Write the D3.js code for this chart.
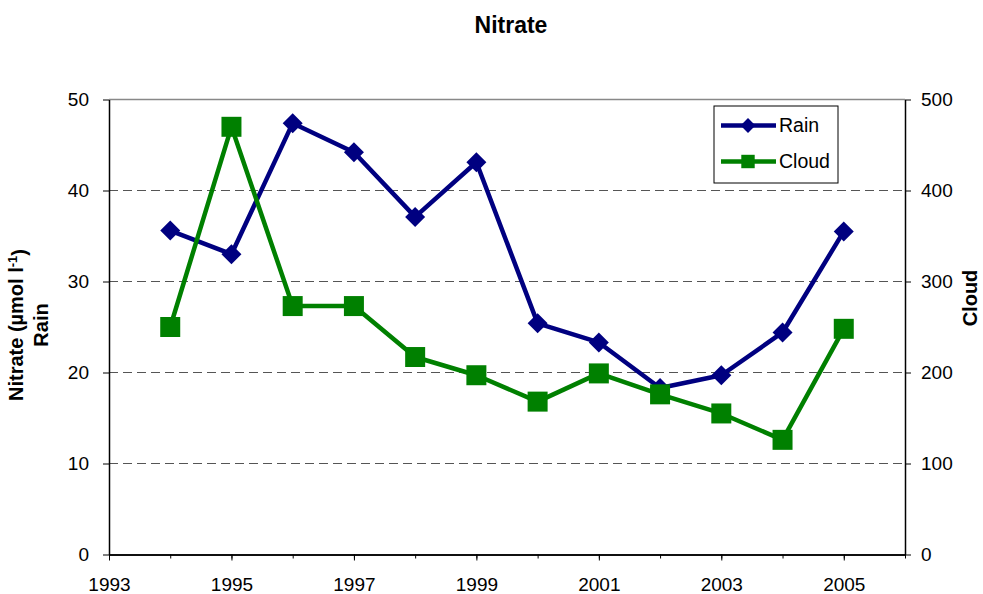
<!DOCTYPE html>
<html>
<head>
<meta charset="utf-8">
<script src="https://cdn.jsdelivr.net/npm/d3@7"></script>
<style>
  html, body { margin: 0; padding: 0; background: #fff; }
  svg { display: block; font-family: "Liberation Sans", Arial, sans-serif; }
</style>
</head>
<body>
<svg id="chart" width="983" height="594"></svg>
<script>
// Annual mean nitrate concentrations
const years = [1994, 1995, 1996, 1997, 1998, 1999, 2000, 2001, 2002, 2003, 2004, 2005];
const rainValues = [35.6, 33.0, 47.4, 44.2, 37.1, 43.1, 25.4, 23.3, 18.3, 19.7, 24.4, 35.5];
const cloudValues = [250, 470, 273, 273, 217, 197, 168, 199, 176, 155, 126, 248];

const xTickLabels = [1993, 1995, 1997, 1999, 2001, 2003, 2005];
const xMinorTicks = d3.range(1993, 2007);
const leftTicks = [0, 10, 20, 30, 40, 50];
const rightTicks = [0, 100, 200, 300, 400, 500];

const titleText = "Nitrate";
const leftTitleLines = ["Nitrate (\u00b5mol l", "Rain"];
const rightTitle = "Cloud";

const series = [
  { name: "Rain", values: rainValues, color: "#000080", shape: "diamond", axis: "left" },
  { name: "Cloud", values: cloudValues, color: "#008000", shape: "square", axis: "right" }
];

const svg = d3.select("#chart");
const plot = { left: 109, right: 905, top: 99.5, bottom: 554.5 };

const x = d3.scaleLinear().domain([1993, 2006]).range([plot.left, plot.right]);
const yLeft = d3.scaleLinear().domain([0, 50]).range([plot.bottom, plot.top]);
const yRight = d3.scaleLinear().domain([0, 500]).range([plot.bottom, plot.top]);

// Plot area border (top edge) in grey
svg.append("line")
  .attr("x1", plot.left).attr("x2", plot.right)
  .attr("y1", plot.top).attr("y2", plot.top)
  .attr("stroke", "#888").attr("stroke-width", 1.5);

// Dashed horizontal gridlines
svg.append("g").selectAll("line")
  .data(leftTicks.filter(d => d > 0 && d < 50))
  .join("line")
  .attr("x1", plot.left).attr("x2", plot.right)
  .attr("y1", d => yLeft(d)).attr("y2", d => yLeft(d))
  .attr("stroke", "#555").attr("stroke-width", 1)
  .attr("stroke-dasharray", "9,5");

const tickFont = "19px";

// Left axis
const gLeft = svg.append("g").attr("transform", `translate(${plot.left},0)`)
  .call(d3.axisLeft(yLeft).tickValues(leftTicks).tickSize(6).tickSizeOuter(0).tickPadding(14));
// Right axis
const gRight = svg.append("g").attr("transform", `translate(${plot.right},0)`)
  .call(d3.axisRight(yRight).tickValues(rightTicks).tickSize(6).tickSizeOuter(0).tickPadding(10));
// Bottom axis: minor ticks every year, labelled ticks every two years
const gMinor = svg.append("g").attr("transform", `translate(0,${plot.bottom})`)
  .call(d3.axisBottom(x).tickValues(xMinorTicks).tickSize(4).tickSizeOuter(0).tickFormat(""));
const gBottom = svg.append("g").attr("transform", `translate(0,${plot.bottom})`)
  .call(d3.axisBottom(x).tickValues(xTickLabels).tickSize(6).tickSizeOuter(0)
    .tickFormat(d3.format("d")).tickPadding(17));

[gLeft, gRight, gMinor, gBottom].forEach(g => {
  g.select(".domain").attr("stroke", "#000").attr("stroke-width", 1.5);
  g.selectAll(".tick line").attr("stroke", "#000").attr("stroke-width", 1);
  g.selectAll(".tick text").attr("fill", "#000").style("font-size", tickFont)
    .style("font-family", "'Liberation Sans', Arial, sans-serif");
});
gBottom.selectAll(".tick text").attr("dy", "0.71em");

// Symbol generators
const markerPath = (shape) => shape === "diamond"
  ? d3.symbol().type(d3.symbolSquare).size(200)()
  : d3.symbol().type(d3.symbolSquare).size(400)();
const markerRotate = (shape) => shape === "diamond" ? 45 : 0;

// Series lines and markers
series.forEach(s => {
  const yScale = s.axis === "left" ? yLeft : yRight;
  const pts = years.map((yr, i) => ({ yr, v: s.values[i] }));
  svg.append("path")
    .datum(pts)
    .attr("fill", "none")
    .attr("stroke", s.color)
    .attr("stroke-width", 4.5)
    .attr("stroke-linejoin", "round")
    .attr("d", d3.line().x(d => x(d.yr)).y(d => yScale(d.v)));
  svg.append("g").selectAll("path")
    .data(pts)
    .join("path")
    .attr("d", markerPath(s.shape))
    .attr("fill", s.color)
    .attr("transform", d => `translate(${x(d.yr)},${yScale(d.v)}) rotate(${markerRotate(s.shape)})`);
});

// Legend
const legend = svg.append("g");
legend.append("rect")
  .attr("x", 714).attr("y", 106).attr("width", 124).attr("height", 77)
  .attr("fill", "#fff").attr("stroke", "#000").attr("stroke-width", 1);
series.forEach((s, i) => {
  const ly = 125.5 + i * 36;
  legend.append("line")
    .attr("x1", 721).attr("x2", 776).attr("y1", ly).attr("y2", ly)
    .attr("stroke", s.color).attr("stroke-width", 4.5);
  legend.append("path")
    .attr("d", s.shape === "diamond"
      ? d3.symbol().type(d3.symbolSquare).size(110)()
      : d3.symbol().type(d3.symbolSquare).size(180)())
    .attr("fill", s.color)
    .attr("transform", `translate(748,${ly}) rotate(${markerRotate(s.shape)})`);
  legend.append("text")
    .attr("x", 779).attr("y", ly).attr("dy", "0.35em")
    .style("font-size", "19.5px").attr("fill", "#000")
    .text(s.name);
});

// Chart title
svg.append("text")
  .attr("x", 511).attr("y", 33)
  .attr("text-anchor", "middle")
  .style("font-size", "23px").style("font-weight", "bold")
  .text(titleText);

// Left axis title (two lines, rotated)
const leftTitle = svg.append("text")
  .attr("transform", "translate(0,325) rotate(-90)")
  .attr("text-anchor", "middle")
  .style("font-size", "20px").style("font-weight", "bold");
const line1 = leftTitle.append("tspan").attr("x", 0).attr("y", 23);
line1.append("tspan").text(leftTitleLines[0]);
line1.append("tspan").attr("dy", "-0.45em").style("font-size", "13px").text("-1");
line1.append("tspan").attr("dy", "0.45em").text(")");
leftTitle.append("tspan").attr("x", 0).attr("y", 48).text(leftTitleLines[1]);

// Right axis title
svg.append("text")
  .attr("transform", "translate(977,298) rotate(-90)")
  .attr("text-anchor", "middle")
  .style("font-size", "20px").style("font-weight", "bold")
  .text(rightTitle);
</script>
</body>
</html>
